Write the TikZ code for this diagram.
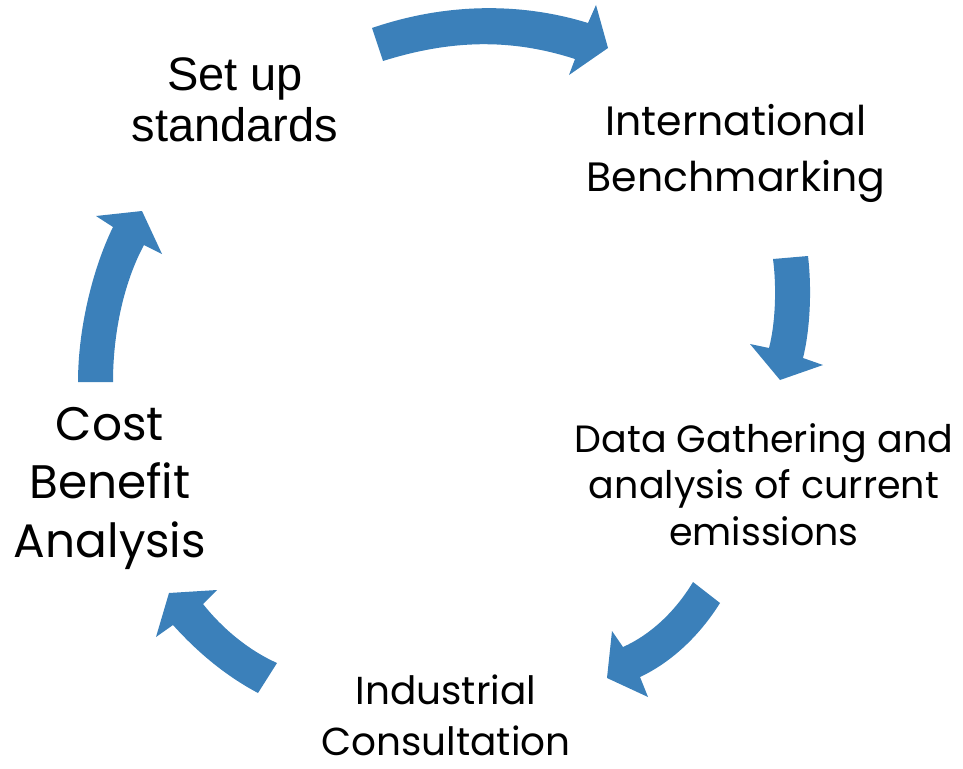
\documentclass[tikz,border=0pt]{standalone}
\usepackage{fontspec}
\setmainfont{Poppins}
\newfontfamily\arialfont{Liberation Sans}
\definecolor{arrowblue}{RGB}{59,128,186}
\tikzset{
  cyclearrow/.style={fill=arrowblue, draw=none},
  steplabel/.style={align=center, anchor=base, inner sep=0pt, text=black},
}
\begin{document}
\begin{tikzpicture}[x=1pt,y=-1pt]
\useasboundingbox (0,0) rectangle (963,768);
% arrows
\path[cyclearrow] (372,28) .. controls (445,3) and (520,2) .. (588,23)
  -- (596,5) -- (608,48) -- (569,75) -- (575,59)
  .. controls (510,38) and (450,40) .. (383,61) -- cycle;
\path[cyclearrow] (773,259) -- (808,256)
  .. controls (812,290) and (810,330) .. (803,358)
  -- (823,365) -- (780,380) -- (750,344) -- (769,348)
  .. controls (775,325) and (777,290) .. (773,259) -- cycle;
\path[cyclearrow] (693,582) -- (720,603)
  .. controls (700,635) and (672,662) .. (640,677)
  -- (648,697) -- (607,678) -- (612,631) -- (623,647)
  .. controls (650,635) and (675,612) .. (693,582) -- cycle;
\path[cyclearrow] (258,693) -- (277,663)
  .. controls (248,650) and (222,628) .. (203,604)
  -- (217,590) -- (169,593) -- (156,637) -- (173,625)
  .. controls (200,655) and (228,677) .. (258,693) -- cycle;
\path[cyclearrow] (78,382) -- (113,382)
  .. controls (113,330) and (125,280) .. (144,245)
  -- (162,254) -- (142,211) -- (96,216) -- (113,227)
  .. controls (92,270) and (78,330) .. (78,382) -- cycle;
% labels (anchor = baseline of the last line)
\node[steplabel, font=\arialfont\fontsize{47}{51}\selectfont] (setup) at (235,141) {Set up\\standards};
\node[steplabel, font=\fontsize{41}{56}\selectfont] (bench) at (736,191) {International\\Benchmarking};
\node[steplabel, font=\fontsize{38}{46.5}\selectfont] (data) at (764,545) {Data Gathering and\\analysis of current\\emissions};
\node[steplabel, font=\fontsize{47}{58.5}\selectfont] (cost) at (110,557) {Cost\\Benefit\\Analysis};
\node[steplabel, font=\fontsize{39}{51}\selectfont] (indus) at (446,755) {Industrial\\Consultation};
\end{tikzpicture}
\end{document}
